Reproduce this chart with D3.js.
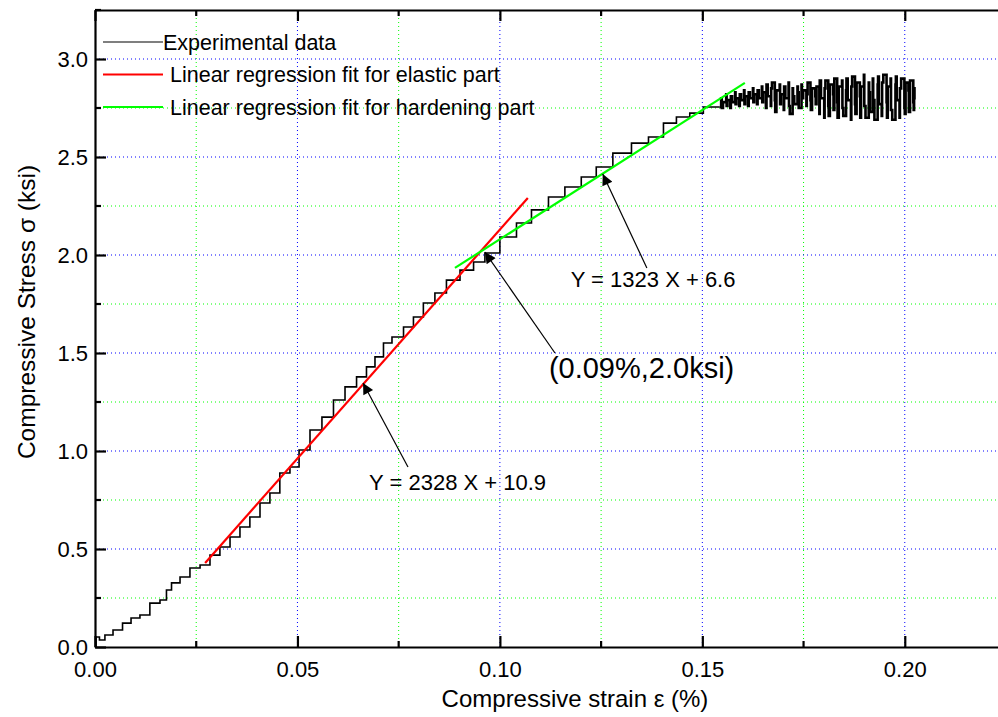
<!DOCTYPE html>
<html lang="en">
<head>
<meta charset="utf-8">
<style>
body { margin: 0; background: #fff; }
svg { display: block; }
text { font-family: "Liberation Sans", Arial, sans-serif; fill: #000; }
.grid line { stroke-width: 1; stroke-dasharray: 1,3; }
.axis path, .axis line { stroke: #000; stroke-width: 2.2; }
</style>
</head>
<body>
<svg width="998" height="717"></svg>
<script src="https://d3js.org/d3.v7.min.js"></script>
<script>

// x ticks (strain, %) and y ticks (stress, ksi)
var xMajor = [0, 0.05, 0.10, 0.15, 0.20];
var xMinor = [0.025, 0.075, 0.125, 0.175, 0.225];
var yMajor = [0, 0.5, 1.0, 1.5, 2.0, 2.5, 3.0];
var yMinor = [0.25, 0.75, 1.25, 1.75, 2.25, 2.75, 3.25];

// experimental curve: [strain %, stress ksi]
var loading = [
  [0, 0], [0.0005, 0.051], [0.0017, 0.036], [0.0032, 0.061], [0.0057, 0.087],
  [0.0079, 0.122], [0.0099, 0.148], [0.0123, 0.163], [0.0148, 0.224], [0.0173, 0.240],
  [0.0180, 0.291], [0.0198, 0.327], [0.0222, 0.357], [0.0247, 0.403], [0.0272, 0.418],
  [0.0296, 0.469], [0.0321, 0.510], [0.0346, 0.561], [0.0370, 0.612], [0.0395, 0.663],
  [0.0420, 0.735], [0.0444, 0.786], [0.0469, 0.888], [0.0494, 0.918], [0.0514, 1.005],
  [0.0548, 1.107], [0.0573, 1.173], [0.0605, 1.260], [0.0630, 1.327], [0.0662, 1.378],
  [0.0679, 1.429], [0.0704, 1.480], [0.0721, 1.551], [0.0746, 1.582], [0.0778, 1.633],
  [0.0795, 1.684], [0.0827, 1.755], [0.0852, 1.806], [0.0884, 1.872], [0.0919, 1.923],
  [0.0951, 1.964], [0.0975, 2.010], [0.1025, 2.092], [0.1057, 2.163], [0.1099, 2.230],
  [0.1141, 2.296], [0.1180, 2.347], [0.1222, 2.398], [0.1254, 2.449], [0.1304, 2.520],
  [0.1346, 2.571], [0.1388, 2.602], [0.1420, 2.673], [0.1452, 2.704], [0.1486, 2.724],
  [0.1519, 2.755], [0.1543, 2.755]
];

// scatter near peak stress
var plateau = [
  [0.1543, 2.755],
  [0.1550, 2.80], [0.1546, 2.75], [0.1556, 2.78], [0.1562, 2.82], [0.1558, 2.76], [0.1566, 2.79],
  [0.1572, 2.75], [0.1569, 2.81], [0.1578, 2.78], [0.1584, 2.83], [0.1580, 2.77], [0.1588, 2.80],
  [0.1594, 2.76], [0.1591, 2.82], [0.1600, 2.79], [0.1606, 2.84], [0.1602, 2.77], [0.1610, 2.81],
  [0.1616, 2.76], [0.1613, 2.83], [0.1622, 2.80], [0.1628, 2.85], [0.1624, 2.78], [0.1632, 2.82],
  [0.1638, 2.77], [0.1635, 2.84], [0.1644, 2.80], [0.1650, 2.86], [0.1646, 2.78],
  [0.1654, 2.83], [0.1660, 2.75], [0.1657, 2.87], [0.1666, 2.81], [0.1672, 2.76], [0.1668, 2.85],
  [0.1676, 2.88], [0.1682, 2.79], [0.1678, 2.73], [0.1688, 2.84], [0.1694, 2.87], [0.1690, 2.77],
  [0.1698, 2.82], [0.1704, 2.74], [0.1700, 2.86], [0.1710, 2.80], [0.1716, 2.88], [0.1712, 2.76],
  [0.1720, 2.72], [0.1726, 2.85], [0.1722, 2.81], [0.1732, 2.77], [0.1738, 2.86], [0.1734, 2.83],
  [0.1742, 2.75], [0.1748, 2.87], [0.1744, 2.80], [0.1754, 2.84], [0.1760, 2.76], [0.1756, 2.82],
  [0.1764, 2.88], [0.1770, 2.79], [0.1766, 2.74], [0.1776, 2.85], [0.1782, 2.81], [0.1778, 2.77],
  [0.1786, 2.86], [0.1792, 2.72], [0.1788, 2.89], [0.1798, 2.80], [0.1804, 2.70], [0.1800, 2.85],
  [0.1808, 2.89], [0.1814, 2.76], [0.1810, 2.71], [0.1820, 2.87], [0.1826, 2.82], [0.1822, 2.74],
  [0.1830, 2.90], [0.1836, 2.78], [0.1832, 2.70], [0.1842, 2.86], [0.1848, 2.89], [0.1844, 2.75],
  [0.1852, 2.71], [0.1858, 2.84], [0.1854, 2.90], [0.1864, 2.79], [0.1870, 2.69], [0.1866, 2.86],
  [0.1874, 2.91], [0.1880, 2.77], [0.1876, 2.72], [0.1886, 2.88], [0.1892, 2.81], [0.1888, 2.70],
  [0.1896, 2.86], [0.1902, 2.92], [0.1898, 2.76], [0.1908, 2.70], [0.1914, 2.88], [0.1910, 2.83],
  [0.1918, 2.73], [0.1924, 2.90], [0.1920, 2.79], [0.1930, 2.69], [0.1936, 2.87], [0.1932, 2.91],
  [0.1940, 2.77], [0.1946, 2.71], [0.1942, 2.88], [0.1952, 2.92], [0.1958, 2.78], [0.1954, 2.70],
  [0.1962, 2.86], [0.1968, 2.90], [0.1964, 2.74], [0.1974, 2.69], [0.1980, 2.87], [0.1976, 2.91],
  [0.1984, 2.79], [0.1990, 2.70], [0.1986, 2.85], [0.1996, 2.90], [0.2002, 2.75], [0.1998, 2.72],
  [0.2006, 2.88], [0.2012, 2.84], [0.2008, 2.73], [0.2018, 2.89], [0.2024, 2.78], [0.2020, 2.74],
  [0.2026, 2.85], [0.2022, 2.80]
];

// fitted lines, end points
var elasticFit = [[0.0272, 0.429], [0.1069, 2.291]];
var hardeningFit = [[0.0889, 1.934], [0.1605, 2.878]];

// annotations: text anchor, arrow tail, arrow tip (data units)
var notes = [
  {label: "Y = 2328 X + 10.9", at: [0.0677, 0.80], tail: [0.0773, 0.918], tip: [0.0662, 1.347], size: 22},
  {label: "Y = 1323 X + 6.6", at: [0.1175, 1.837], tail: [0.1363, 1.934], tip: [0.1254, 2.413], size: 22},
  {label: "(0.09%,2.0ksi)", at: [0.1121, 1.37], tail: [0.1136, 1.50], tip: [0.0963, 2.015], size: 29}
];

var legendItems = [
  {label: "Experimental data", color: "#000", width: 1.2},
  {label: "Linear regression fit for elastic part", color: "#ff0000", width: 2},
  {label: "Linear regression fit for hardening part", color: "#00ff00", width: 2}
];

var svg = d3.select("svg");

var x = d3.scaleLinear().domain([0, 0.225]).range([95, 1006]);
var y = d3.scaleLinear().domain([0, 3.25]).range([647, 10]);

// grid
var grid = svg.append("g").attr("class", "grid");
grid.selectAll(".vmin").data(xMinor).enter().append("line")
    .attr("x1", d => x(d)).attr("x2", d => x(d))
    .attr("y1", y(0)).attr("y2", y(3.25))
    .attr("stroke", "#00ff00");
grid.selectAll(".vmaj").data(xMajor.slice(1)).enter().append("line")
    .attr("x1", d => x(d)).attr("x2", d => x(d))
    .attr("y1", y(0)).attr("y2", y(3.25))
    .attr("stroke", "#0000ff");
grid.selectAll(".hmin").data(yMinor.slice(0, -1)).enter().append("line")
    .attr("x1", x(0)).attr("x2", x(0.225))
    .attr("y1", d => y(d)).attr("y2", d => y(d))
    .attr("stroke", "#00ff00");
grid.selectAll(".hmaj").data(yMajor.slice(1)).enter().append("line")
    .attr("x1", x(0)).attr("x2", x(0.225))
    .attr("y1", d => y(d)).attr("y2", d => y(d))
    .attr("stroke", "#0000ff");

// data
var stepLine = d3.line()
    .x(d => x(d[0]))
    .y(d => y(d[1]))
    .curve(d3.curveStep);

svg.append("path")
    .datum(loading)
    .attr("d", stepLine)
    .attr("fill", "none")
    .attr("stroke", "#000")
    .attr("stroke-width", 1.6);

// the peak scatter is drawn heavier, like the dense blob in the original
svg.append("path")
    .datum(plateau)
    .attr("d", stepLine)
    .attr("fill", "none")
    .attr("stroke", "#000")
    .attr("stroke-width", 2.6);

var fitLine = d3.line().x(d => x(d[0])).y(d => y(d[1]));

svg.append("path").datum(elasticFit).attr("d", fitLine)
    .attr("stroke", "#ff0000").attr("stroke-width", 2.2).attr("fill", "none");
svg.append("path").datum(hardeningFit).attr("d", fitLine)
    .attr("stroke", "#00ff00").attr("stroke-width", 2.2).attr("fill", "none");

// axes
var fontTick = "22px";

var xAxis = svg.append("g").attr("class", "axis")
    .attr("transform", "translate(0," + y(0) + ")")
    .call(d3.axisBottom(x).tickValues(xMajor).tickFormat(d3.format(".2f"))
      .tickSizeInner(-11).tickSizeOuter(0).tickPadding(14));
xAxis.selectAll("text").style("font-size", fontTick);
xAxis.selectAll(".minor").data(xMinor).enter().append("line")
    .attr("x1", d => x(d)).attr("x2", d => x(d))
    .attr("y1", 0).attr("y2", -6);

var yAxis = svg.append("g").attr("class", "axis")
    .attr("transform", "translate(" + x(0) + ",0)")
    .call(d3.axisLeft(y).tickValues(yMajor).tickFormat(d3.format(".1f"))
      .tickSizeInner(-11).tickSizeOuter(0).tickPadding(7));
yAxis.selectAll("text").style("font-size", fontTick);
yAxis.selectAll(".minor").data(yMinor).enter().append("line")
    .attr("x1", 0).attr("x2", 6)
    .attr("y1", d => y(d)).attr("y2", d => y(d));

// top axis: line with inward ticks, no labels
var topAxis = svg.append("g").attr("class", "axis")
    .attr("transform", "translate(0," + y(3.25) + ")")
    .call(d3.axisTop(x).tickValues(xMajor).tickFormat("")
      .tickSizeInner(-11).tickSizeOuter(0));
topAxis.selectAll(".minor").data(xMinor).enter().append("line")
    .attr("x1", d => x(d)).attr("x2", d => x(d))
    .attr("y1", 0).attr("y2", 6);

// axis titles
svg.append("text")
    .attr("x", 575).attr("y", 707)
    .attr("text-anchor", "middle")
    .style("font-size", "24px")
    .text("Compressive strain \u03b5 (%)");

svg.append("text")
    .attr("transform", "translate(35,312) rotate(-90)")
    .attr("text-anchor", "middle")
    .style("font-size", "24.5px")
    .text("Compressive Stress \u03c3 (ksi)");

// annotations
svg.append("defs").append("marker")
    .attr("id", "head")
    .attr("viewBox", "0 0 10 10")
    .attr("refX", 10).attr("refY", 5)
    .attr("markerWidth", 18).attr("markerHeight", 11)
    .attr("markerUnits", "userSpaceOnUse")
    .attr("orient", "auto")
  .append("path")
    .attr("d", "M0,0L10,5L0,10Z")
    .attr("fill", "#000");

var ann = svg.append("g").selectAll("g").data(notes).enter().append("g");
ann.append("line")
    .attr("x1", d => x(d.tail[0])).attr("y1", d => y(d.tail[1]))
    .attr("x2", d => x(d.tip[0])).attr("y2", d => y(d.tip[1]))
    .attr("stroke", "#000").attr("stroke-width", 1.2)
    .attr("marker-end", "url(#head)");
ann.append("text")
    .attr("x", d => x(d.at[0])).attr("y", d => y(d.at[1]))
    .style("font-size", d => d.size + "px")
    .text(d => d.label);

// legend
var leg = svg.append("g").selectAll("g").data(legendItems).enter().append("g")
    .attr("transform", (d, i) => "translate(0," + (42 + i * 32.5) + ")");
leg.append("line")
    .attr("x1", 103).attr("x2", 163)
    .attr("stroke", d => d.color)
    .attr("stroke-width", d => d.width);
leg.append("text")
    .attr("x", (d, i) => i === 0 ? 163 : 170)
    .attr("dy", "0.35em")
    .style("font-size", "21.5px")
    .text(d => d.label);

</script>
</body>
</html>
